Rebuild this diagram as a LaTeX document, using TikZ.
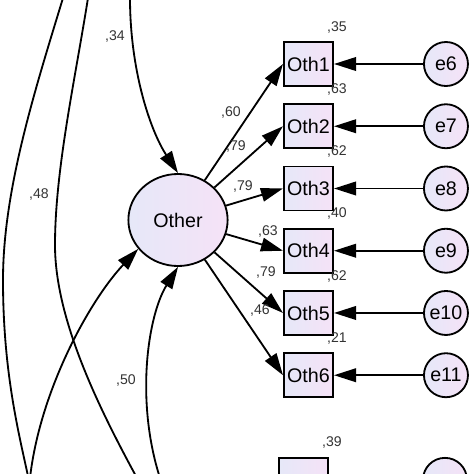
\documentclass[tikz,border=0pt]{standalone}
\usepackage{fontspec}
\setmainfont{Liberation Sans}
\usetikzlibrary{arrows.meta, positioning, shapes.geometric, calc}
\definecolor{semlo}{RGB}{230,232,248}
\definecolor{semhi}{RGB}{245,226,247}

\begin{document}
\begin{tikzpicture}[
    x=0.025cm, y=-0.025cm,
    % Styles
    obsbox/.style={draw, line width=1.3pt, minimum width=1.23cm, minimum height=1.1cm, inner sep=0pt, left color=semlo, right color=semhi, font=\fontsize{14}{16}\selectfont},
    latent/.style={draw, ellipse, line width=1.3pt, minimum width=2.48cm, minimum height=2.3cm, inner sep=0pt, left color=semlo, right color=semhi, font=\fontsize{14}{16}\selectfont},
    errcirc/.style={draw, circle, line width=1.3pt, minimum size=1.1cm, inner sep=0pt, left color=semlo, right color=semhi, font=\fontsize{14}{16}\selectfont},
    coef/.style={font=\fontsize{10}{12}\selectfont, text=black!80, inner sep=0pt},
    semarrow/.style={-{Triangle[length=0.55cm, width=0.34cm]}, line width=1.3pt},
    semline/.style={line width=1.3pt},
    node distance=0.41cm
]
    \useasboundingbox (0,0) rectangle (474,474);
    \clip (0,0) rectangle (474,474);

    % Latent factor
    \node[latent] (other) at (178,220) {Other};

    % Indicators (stacked vertically)
    \node[obsbox] (oth1) at (308.5,64) {Oth1};
    \node[obsbox, below=of oth1] (oth2) {Oth2};
    \node[obsbox, below=of oth2] (oth3) {Oth3};
    \node[obsbox, below=of oth3] (oth4) {Oth4};
    \node[obsbox, below=of oth4] (oth5) {Oth5};
    \node[obsbox, below=of oth5] (oth6) {Oth6};
    \node[obsbox, below=1.47cm of oth6, xshift=-0.125cm] (oth7) {};

    % Error terms
    \node[errcirc, right=2.225cm of oth1] (e6) {e6};
    \node[errcirc, right=2.225cm of oth2] (e7) {e7};
    \node[errcirc, right=2.225cm of oth3] (e8) {e8};
    \node[errcirc, right=2.225cm of oth4] (e9) {e9};
    \node[errcirc, right=2.225cm of oth5] (e10) {e10};
    \node[errcirc, right=2.225cm of oth6] (e11) {e11};
    \node[errcirc, right=2.325cm of oth7] (e12) {};

    % Loose ends of paths leaving the picture
    \coordinate (covtopA) at (63,-2);
    \coordinate (covmidA) at (3,280);
    \coordinate (covbotA) at (28,476);
    \coordinate (covtopB) at (88,-2);
    \coordinate (covmidB) at (55,245);
    \coordinate (covbotB) at (137,478);
    \coordinate (pathtop) at (130,-2);
    \coordinate (pathleft) at (30,478);
    \coordinate (pathbot) at (160,478);

    % Covariances on the left
    \draw[semline] (covtopA) .. controls (35,90) and (3,190) .. (covmidA)
        .. controls (3,370) and (18,430) .. (covbotA);
    \draw[semline] (covtopB) .. controls (75,80) and (55,170) .. (covmidB)
        .. controls (55,320) and (100,410) .. (covbotB);

    % Paths into the factor
    \draw[semarrow] (pathtop) .. controls (130,70) and (150,130) .. (other.north);
    \draw[semarrow] (pathleft) .. controls (40,390) and (90,300) .. (other.216);
    \draw[semarrow] (pathbot) .. controls (135,400) and (148,315) .. (other.south);

    % Loadings
    \draw[semarrow] (other) -- (oth1.west);
    \draw[semarrow] (other) -- (oth2.west);
    \draw[semarrow] (other) -- (oth3.west);
    \draw[semarrow] (other) -- (oth4.west);
    \draw[semarrow] (other) -- (oth5.west);
    \draw[semarrow] (other) -- (oth6.west);

    % Error arrows
    \draw[semarrow] (e6) -- (oth1);
    \draw[semarrow] (e7) -- (oth2);
    \draw[semarrow] (e8) -- (oth3);
    \draw[semarrow] (e9) -- (oth4);
    \draw[semarrow] (e10) -- (oth5);
    \draw[semarrow] (e11) -- (oth6);

    % Path coefficients
    \node[coef] (c34) at (115,36) {,34};
    \node[coef] (c48) at (39,194) {,48};
    \node[coef] (c50) at (126,380) {,50};

    % Loading values
    \node[coef] (lo1) at (231,112) {,60};
    \node[coef] (lo2) at (236,146) {,79};
    \node[coef] (lo3) at (243,186) {,79};
    \node[coef] (lo4) at (268,231) {,63};
    \node[coef] (lo5) at (266,272) {,79};
    \node[coef] (lo6) at (260,310) {,46};

    % Squared multiple correlations
    \node[coef] (r1) at ($(oth1.north east)+(3,-14)$) {,35};
    \node[coef] (r2) at ($(oth2.north east)+(3,-14)$) {,63};
    \node[coef] (r3) at ($(oth3.north east)+(3,-14)$) {,62};
    \node[coef] (r4) at ($(oth4.north east)+(3,-14)$) {,40};
    \node[coef] (r5) at ($(oth5.north east)+(3,-14)$) {,62};
    \node[coef] (r6) at ($(oth6.north east)+(3,-14)$) {,21};
    \node[coef] (r7) at ($(oth7.north east)+(3,-14)$) {,39};
\end{tikzpicture}
\end{document}
